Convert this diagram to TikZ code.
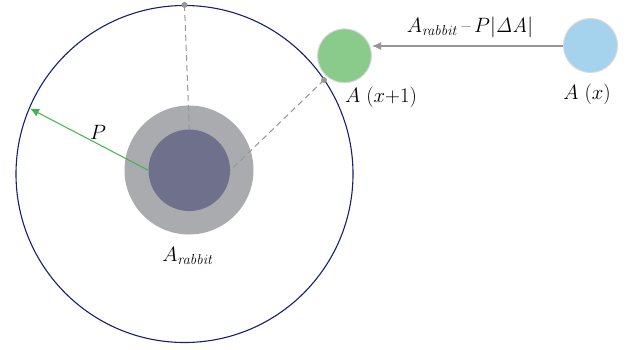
\documentclass[tikz,border=0pt]{standalone}
\usetikzlibrary{arrows.meta}
\definecolor{navyc}{RGB}{22,32,110}
\definecolor{ringc}{RGB}{170,171,175}
\definecolor{corec}{RGB}{110,112,140}
\definecolor{greenc}{RGB}{138,203,140}
\definecolor{bluec}{RGB}{165,210,236}
\definecolor{arrowgreen}{RGB}{62,180,72}
\definecolor{dashc}{RGB}{150,150,152}
\tikzset{
  lbl/.style={font=\fontsize{20}{24}\selectfont, inner sep=0pt},
  dot/.style={circle, fill=dashc, minimum size=6pt, inner sep=0pt},
  dash line/.style={draw=dashc, line width=1pt, dash pattern=on 6pt off 4pt},
  ball/.style={circle, minimum size=54pt, inner sep=0pt, draw=black!15, line width=1pt},
}
\begin{document}
\begin{tikzpicture}[x=1pt,y=-1pt]
\useasboundingbox (0,0) rectangle (632,349);
% big circle
\node[circle, draw=navyc, line width=1.1pt, minimum size=337pt, inner sep=0pt] (big) at (184.5,174) {};
% rabbit
\node[circle, fill=ringc, minimum size=129pt, inner sep=0pt] (ring) at (189,170) {};
\node[circle, fill=corec, minimum size=81.5pt, inner sep=0pt] (core) at (189.3,170.3) {};
% dots on big circle
\node[dot] (top) at (big.north) {};
\coordinate (rdc) at (324,80);
\node[dot] (rdot) at (rdc) {};
% dashed lines
\draw[dash line] (top.center) -- (core.north);
\draw[dash line] (rdot.center) -- (core.east);
% green arrow P
\coordinate (ptip) at (30,108.5);
\draw[arrowgreen, line width=1pt, -{Latex[length=9pt,width=8pt]}] (core.west) -- (ptip);
\node[lbl] (plabel) at (98,132) {$P$};
\node[lbl] (arlabel) at (188,256) {$A_{\mathit{rabbit}}$};
% balls
\node[ball, fill=greenc] (ax1) at (344.5,55.8) {};
\node[ball, fill=bluec] (ax) at (590.5,45.5) {};
\draw[dashc, line width=1.2pt, -{Latex[length=9pt,width=8pt]}] (ax.west |- 0,46) -- (ax1.east |- 0,46);
\node[lbl] (fl) at (470,27) {$A_{\mathit{rabbit}}$\,--\,$P|\mathit{\Delta A}|$};
\node[lbl] (ax1l) at (381,97) {$A\ (x{+}1)$};
\node[lbl] (axl) at (587,94) {$A\ (x)$};
\end{tikzpicture}
\end{document}
